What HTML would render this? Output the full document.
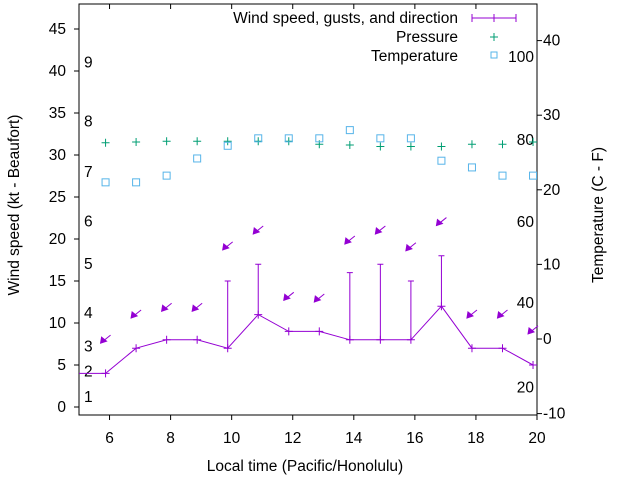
<!DOCTYPE html>
<html><head><meta charset="utf-8"><style>
html,body{margin:0;padding:0;background:#fff;}
svg{display:block;font-family:"Liberation Sans",sans-serif;}
</style></head><body>
<svg id="chart" width="640" height="480" viewBox="0 0 640 480" xmlns="http://www.w3.org/2000/svg">
<g id="axes"></g>
<g id="marks"></g>
<text x="0" y="0" transform="translate(19,205) rotate(-90)" text-anchor="middle" font-size="15.5">Wind speed (kt - Beaufort)</text>
<text x="0" y="0" transform="translate(603,215) rotate(-90)" text-anchor="middle" font-size="15.5">Temperature (C - F)</text>
<text x="305" y="471" text-anchor="middle" font-size="15.5">Local time (Pacific/Honolulu)</text>
<g font-size="15.5">
<text x="458" y="23" text-anchor="end">Wind speed, gusts, and direction</text>
<line x1="472" y1="18" x2="516" y2="18" stroke="#9400d3" stroke-width="1"/>
<line x1="472" y1="14" x2="472" y2="22" stroke="#9400d3"/><line x1="516" y1="14" x2="516" y2="22" stroke="#9400d3"/>
<line x1="494" y1="14" x2="494" y2="22" stroke="#9400d3"/>
<text x="458" y="42" text-anchor="end">Pressure</text>
<path d="M490,37h8M494,33v8" stroke="#009e73" fill="none"/>
<text x="458" y="61" text-anchor="end">Temperature</text>
<rect x="491" y="52" width="6" height="6" fill="none" stroke="#56b4e9"/>
</g>
</svg>
<script>
const hours = [5.87,6.87,7.87,8.87,9.87,10.87,11.87,12.87,13.87,14.87,15.87,16.87,17.87,18.87,19.87];
const windSpeed = [4,7,8,8,7,11,9,9,8,8,8,12,7,7,5];
const gusts = [null,null,null,null,15,17,null,null,16,17,15,18,null,null,null];
const arrowY = [7.6,10.6,11.4,11.4,18.7,20.6,12.7,12.5,19.4,20.6,18.6,21.6,10.6,10.6,8.7];
const pressure = [26.3,26.4,26.5,26.5,26.5,26.5,26.5,26.1,26.0,25.8,25.8,25.8,26.1,26.1,26.4];
const temperature = [21.0,21.0,21.9,24.2,25.9,26.9,26.9,26.9,28.0,26.9,26.9,23.9,23.0,21.9,21.9];
const xTicks = [6,8,10,12,14,16,18,20];
const yTicks = [0,5,10,15,20,25,30,35,40,45];
const y2Ticks = [-10,0,10,20,30,40];
const beaufortLabels = ["1","2","3","4","5","6","7","8","9"];
const beaufortY = [1.2,4.2,7.2,11.2,17,22.1,28,34,41];
const fLabels = ["20","40","60","80","100"];
const fY = [-6.5,4.8,15.7,26.7,37.8];

const L=79,R=537,T=4,B=415;
const xs=h=>L+(h-5)*(R-L)/15;
const ys=v=>407-v*8.4;
const y2=v=>339-v*7.46;
const NS="http://www.w3.org/2000/svg";
function mk(tag,parent,attrs){const e=document.createElementNS(NS,tag);for(const k in attrs)e.setAttribute(k,attrs[k]);parent.appendChild(e);return e;}
const ax=document.getElementById('axes'), mg=document.getElementById('marks');
let f=mk('rect',ax,{x:L,y:T,width:R-L,height:B-T,fill:'none',stroke:'#000'});


xTicks.forEach(t=>{const x=xs(t);
 mk('line',ax,{x1:x,y1:B,x2:x,y2:B+5,stroke:'#000'});
 mk('line',ax,{x1:x,y1:T,x2:x,y2:T+5,stroke:'#000'});
 const tx=mk('text',ax,{x:x,y:443,'text-anchor':'middle','font-size':15.5});tx.textContent=t;
 
 });
yTicks.forEach(t=>{const y=ys(t);
 mk('line',ax,{x1:L-5,y1:y,x2:L,y2:y,stroke:'#000'});
 const tx=mk('text',ax,{x:66,y:y+5,'text-anchor':'end','font-size':15.5});tx.textContent=t;
 
 });
y2Ticks.forEach(t=>{const y=y2(t);
 mk('line',ax,{x1:R,y1:y,x2:R+5,y2:y,stroke:'#000'});
 const tx=mk('text',ax,{x:543,y:y+5,'font-size':15.5});tx.textContent=t;
 
 });
beaufortLabels.forEach((s,i)=>{const tx=mk('text',ax,{x:84,y:ys(beaufortY[i])+5,'font-size':15.5});tx.textContent=s;
 
 });
fLabels.forEach((s,i)=>{const tx=mk('text',ax,{x:534,y:y2(fY[i])+5,'text-anchor':'end','font-size':15.5});tx.textContent=s;
 
 });
const pts=hours.map((h,i)=>xs(h)+','+ys(windSpeed[i])).join(' ');
let pl=mk('polyline',mg,{points:L+','+ys(4)+' '+pts,fill:'none',stroke:'#9400d3'});


hours.forEach((h,i)=>{const x=xs(h),y=ys(windSpeed[i]);
 const p=mk('path',mg,{d:`M${x-4},${y}h8M${x},${y-4}v8`,stroke:'#9400d3',fill:'none'});
 
 
 if(gusts[i]!=null){const gy=ys(gusts[i]);
  const g=mk('path',mg,{d:`M${x},${y}V${gy}M${x-3},${gy}h6`,stroke:'#9400d3',fill:'none'});
  
  }
 const ay=ys(arrowY[i]), hx=x-5;
 const a=mk('g',mg,{});
 
 
 mk('line',a,{x1:hx,y1:ay,x2:hx+10,y2:ay-8,stroke:'#9400d3'});
 mk('path',a,{d:`M${hx},${ay}l1,-6l5,4z`,fill:'#9400d3',stroke:'#9400d3'});
 const pp=mk('path',mg,{d:`M${x-4},${y2(pressure[i])}h8M${x},${y2(pressure[i])-4}v8`,stroke:'#009e73',fill:'none'});
 
 
 const tp=mk('rect',mg,{x:x-3.5,y:y2(temperature[i])-3.5,width:7,height:7,fill:'none',stroke:'#56b4e9'});
 
 
});
</script>
</body></html>
